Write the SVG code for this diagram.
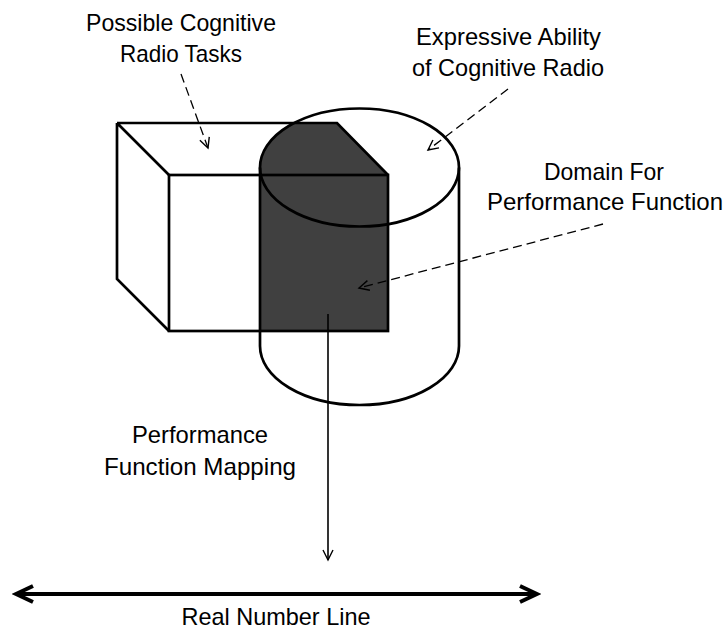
<svg xmlns="http://www.w3.org/2000/svg" width="727" height="629" viewBox="0 0 727 629">
  <style>
    .label { font-family: "Liberation Sans", Arial, sans-serif; font-size: 24px; fill: #000; text-anchor: middle; }
    .edge { fill: none; stroke: #000; stroke-width: 2.7; stroke-linejoin: miter; }
    .dash { fill: none; stroke: #000; stroke-width: 1.3; stroke-dasharray: 9 5; }
    .solid { fill: none; stroke: #000; stroke-width: 1.6; }
    .thick { fill: none; stroke: #000; stroke-width: 4; }
  </style>
  <defs>
    <marker id="open-head" markerUnits="userSpaceOnUse" markerWidth="14" markerHeight="14" refX="11" refY="6" orient="auto">
      <path d="M1,1 L11,6 L1,11" fill="none" stroke="#000" stroke-width="1.4"/>
    </marker>
    <marker id="bold-head" markerUnits="userSpaceOnUse" markerWidth="24" markerHeight="24" refX="20" refY="10" orient="auto-start-reverse">
      <path d="M3,2 L20,10 L3,18" fill="none" stroke="#000" stroke-width="4" stroke-linejoin="miter"/>
    </marker>
    <!-- outline of the cube's top and front faces -->
    <clipPath id="cube-clip">
      <polygon points="117,123 337,123 388,175 388,331 169,331 169,175"/>
    </clipPath>
  </defs>

  <rect width="727" height="629" fill="#fff"/>

  <!-- overlap of the task cube and the capability cylinder -->
  <g id="domain">
    <path d="M260,167.5 A99.5,59 0 0 1 459,167.5 L459,346 A99.5,59 0 0 1 260,346 Z" fill="#404040" clip-path="url(#cube-clip)"/>
  </g>

  <g id="cube">
    <path class="edge" d="M117,123 L337,123 L388,175 M117,123 L117,279 L169,331 M117,123 L169,175"/>
    <rect class="edge" x="169" y="175" width="219" height="156"/>
  </g>

  <g id="cylinder">
    <ellipse class="edge" cx="359.5" cy="167.5" rx="99.5" ry="59"/>
    <path class="edge" d="M260,167.5 L260,346 A99.5,59 0 0 0 459,346 L459,167.5"/>
  </g>

  <g id="connectors">
    <line class="dash" x1="181" y1="74" x2="208" y2="148" marker-end="url(#open-head)"/>
    <line class="dash" x1="508" y1="89" x2="428" y2="150" marker-end="url(#open-head)"/>
    <line class="dash" x1="603" y1="224" x2="359" y2="288" marker-end="url(#open-head)"/>
    <line class="solid" x1="328" y1="314" x2="328" y2="560" marker-end="url(#open-head)"/>
    <line class="thick" x1="16" y1="594" x2="537" y2="594" marker-start="url(#bold-head)" marker-end="url(#bold-head)"/>
  </g>

  <g id="label-tasks">
    <text class="label" x="181" y="31" textLength="190" lengthAdjust="spacingAndGlyphs">Possible Cognitive</text>
    <text class="label" x="181" y="62" textLength="122" lengthAdjust="spacingAndGlyphs">Radio Tasks</text>
  </g>
  <g id="label-ability">
    <text class="label" x="508.5" y="45" textLength="185" lengthAdjust="spacingAndGlyphs">Expressive Ability</text>
    <text class="label" x="508" y="76" textLength="192" lengthAdjust="spacingAndGlyphs">of Cognitive Radio</text>
  </g>
  <g id="label-domain">
    <text class="label" x="604" y="180" textLength="120" lengthAdjust="spacingAndGlyphs">Domain For</text>
    <text class="label" x="605" y="210" textLength="236" lengthAdjust="spacingAndGlyphs">Performance Function</text>
  </g>
  <g id="label-mapping">
    <text class="label" x="200" y="443" textLength="136" lengthAdjust="spacingAndGlyphs">Performance</text>
    <text class="label" x="200" y="475" textLength="192" lengthAdjust="spacingAndGlyphs">Function Mapping</text>
  </g>
  <g id="label-line">
    <text class="label" x="276" y="625" textLength="189" lengthAdjust="spacingAndGlyphs">Real Number Line</text>
  </g>
</svg>
